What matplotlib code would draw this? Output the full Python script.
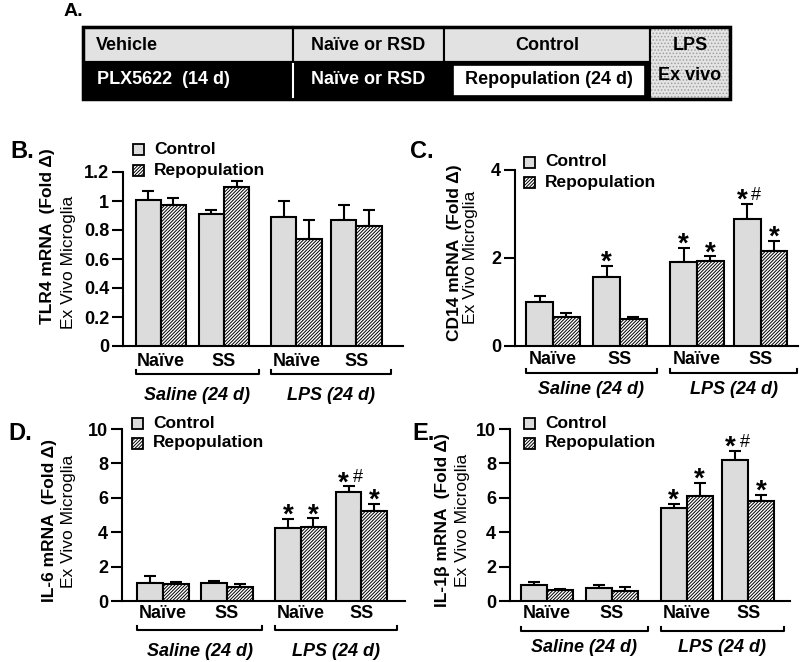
import matplotlib
matplotlib.use('Agg')
import matplotlib.pyplot as plt
from matplotlib.patches import Rectangle
import numpy as np

# values (fold change, mean and upper SEM)
groups = ['Naïve', 'SS', 'Naïve', 'SS']
treatments = ['Saline (24 d)', 'LPS (24 d)']
series = ['Control', 'Repopulation']

tlr4_ctrl = [1.01, 0.91, 0.89, 0.87]
tlr4_ctrl_err = [0.06, 0.03, 0.11, 0.10]
tlr4_repop = [0.97, 1.10, 0.74, 0.83]
tlr4_repop_err = [0.05, 0.04, 0.13, 0.11]

cd14_ctrl = [1.01, 1.57, 1.90, 2.89]
cd14_ctrl_err = [0.13, 0.25, 0.33, 0.34]
cd14_repop = [0.67, 0.61, 1.94, 2.15]
cd14_repop_err = [0.07, 0.06, 0.10, 0.24]

il6_ctrl = [1.02, 1.02, 4.25, 6.33]
il6_ctrl_err = [0.42, 0.13, 0.52, 0.33]
il6_repop = [0.97, 0.83, 4.31, 5.24]
il6_repop_err = [0.12, 0.18, 0.50, 0.40]

il1b_ctrl = [0.95, 0.76, 5.39, 8.20]
il1b_ctrl_err = [0.15, 0.19, 0.27, 0.54]
il1b_repop = [0.62, 0.56, 6.12, 5.79]
il1b_repop_err = [0.10, 0.23, 0.76, 0.37]

# significance marks: (group index, series index, mark)
tlr4_marks = []
cd14_marks = [(1, 0, '*'), (2, 0, '*'), (2, 1, '*'), (3, 0, '*#'), (3, 1, '*')]
il6_marks = [(2, 0, '*'), (2, 1, '*'), (3, 0, '*#'), (3, 1, '*')]
il1b_marks = [(2, 0, '*'), (2, 1, '*'), (3, 0, '*#'), (3, 1, '*')]

plt.rcParams['font.family'] = ['Liberation Sans', 'DejaVu Sans']
plt.rcParams['hatch.linewidth'] = 0.7

W, H = 800, 662
fig = plt.figure(figsize=(W / 100, H / 100), dpi=100)

# overlay in pixel coordinates for the scheme, letters and legends
ov = fig.add_axes([0, 0, 1, 1])
ov.set_xlim(0, W)
ov.set_ylim(H, 0)
ov.axis('off')

GREY = '#dcdcdc'
HATCH = '/' * 10

# --- Panel A: study design ---
ov.text(64, 12, 'A.', fontsize=14, fontweight='bold', va='center')
for x0, x1, lab in [(83, 293, 'Vehicle'), (293, 444, 'Naïve or RSD'), (444, 650, 'Control')]:
    ov.add_patch(Rectangle((x0, 27), x1 - x0, 35, fc='#e2e2e2', ec='black', lw=1.5))
ov.add_patch(Rectangle((83, 62), 567, 37, fc='black', ec='black', lw=1.5))
ov.plot([293, 293], [64, 97], color='white', lw=1.5)
ov.add_patch(Rectangle((453, 65), 192, 31, fc='white', ec='black', lw=1.2))
ov.add_patch(Rectangle((650, 27), 80, 72, fc='#e4e4e4', ec='#a0a0a0', lw=0, hatch='.....'))
ov.add_patch(Rectangle((650, 27), 80, 72, fill=False, ec='black', lw=1.5))
ov.add_patch(Rectangle((83, 27), 647, 72, fill=False, ec='black', lw=2.5))

ov.text(96, 45, 'Vehicle', fontsize=13, fontweight='bold', va='center')
ov.text(97, 80, 'PLX5622  (14 d)', fontsize=13, fontweight='bold', va='center', color='white')
ov.text(368, 45, 'Naïve or RSD', fontsize=13, fontweight='bold', va='center', ha='center')
ov.text(368, 80, 'Naïve or RSD', fontsize=13, fontweight='bold', va='center', ha='center', color='white')
ov.text(547, 45, 'Control', fontsize=13, fontweight='bold', va='center', ha='center')
ov.text(549, 80, 'Repopulation (24 d)', fontsize=13, fontweight='bold', va='center', ha='center')
ov.text(690, 46, 'LPS', fontsize=13, fontweight='bold', va='center', ha='center')
ov.text(690, 75, 'Ex vivo', fontsize=13, fontweight='bold', va='center', ha='center')

x = np.array([0, 1, 2.15, 3.1])
w = 0.4


def panel(box, xlim, ylim, yticks, ctrl, ctrl_err, repop, repop_err, marks,
          name_off, br_off, cat_off):
    l, r, t, b = box
    ax = fig.add_axes([l / W, 1 - b / H, (r - l) / W, (b - t) / H])
    ax.patch.set_alpha(0)
    ax_h = b - t
    ax.bar(x - w / 2, ctrl, w, color=GREY, edgecolor='black', linewidth=1.5, zorder=3)
    ax.bar(x + w / 2, repop, w, color='white', edgecolor='black', hatch=HATCH,
           linewidth=1.5, zorder=3)
    ax.errorbar(x - w / 2, ctrl, yerr=[np.zeros(4), ctrl_err], fmt='none', ecolor='black',
                elinewidth=1.5, capsize=4, capthick=1.5, zorder=2)
    ax.errorbar(x + w / 2, repop, yerr=[np.zeros(4), repop_err], fmt='none', ecolor='black',
                elinewidth=1.5, capsize=4, capthick=1.5, zorder=2)
    ax.set_xlim(*xlim)
    ax.set_ylim(*ylim)
    ax.set_xticks([])
    ax.set_yticks(yticks)
    ax.set_yticklabels([f'{v:g}' for v in yticks], fontweight='bold')
    ax.tick_params(axis='y', direction='out', length=8, width=1.5, labelsize=13, pad=2)
    for s in ['top', 'right']:
        ax.spines[s].set_visible(False)
    for s in ['left', 'bottom']:
        ax.spines[s].set_linewidth(1.5)

    trans = ax.get_xaxis_transform()
    for xi, g in zip(x, groups):
        ax.text(xi, -name_off / ax_h, g, transform=trans, ha='center', va='center',
                fontsize=13, fontweight='bold')
    for i, lab in enumerate(treatments):
        x0 = x[2 * i] - 0.4
        x1 = x[2 * i + 1] + 0.55
        yb = -br_off / ax_h
        yt = -(br_off - 4) / ax_h
        ax.plot([x0, x0, x1, x1], [yt, yb, yb, yt], transform=trans, clip_on=False,
                color='black', lw=1.5)
        ax.text((x0 + x1) / 2, -cat_off / ax_h, lab, transform=trans, ha='center',
                va='center', fontsize=13, fontweight='bold', style='italic')

    vals = [ctrl, repop]
    errs = [ctrl_err, repop_err]
    for gi, si, m in marks:
        xp = x[gi] + (w / 2 if si else -w / 2)
        top = vals[si][gi] + errs[si][gi]
        dx = -5 if m == '*#' else 0
        ax.annotate('*', (xp, top), xytext=(dx, -4), textcoords='offset pixels',
                    ha='center', va='baseline', fontsize=20, fontweight='bold')
        if m == '*#':
            ax.annotate('#', (xp, top), xytext=(9, 4), textcoords='offset pixels',
                        ha='center', va='baseline', fontsize=13)
    return ax


panel((123, 403, 172, 346), (-0.60, 3.84), (0, 1.2), [0, 0.2, 0.4, 0.6, 0.8, 1.0, 1.2],
      tlr4_ctrl, tlr4_ctrl_err, tlr4_repop, tlr4_repop_err, tlr4_marks, 16, 28, 50)
panel((515, 798, 170, 346), (-0.567, 3.66), (0, 4), [0, 2, 4],
      cd14_ctrl, cd14_ctrl_err, cd14_repop, cd14_repop_err, cd14_marks, 14, 27, 44)
panel((122, 405, 429, 601), (-0.64, 3.78), (0, 10), [0, 2, 4, 6, 8, 10],
      il6_ctrl, il6_ctrl_err, il6_repop, il6_repop_err, il6_marks, 13, 29, 50)
panel((510, 790, 429, 601), (-0.57, 3.74), (0, 10), [0, 2, 4, 6, 8, 10],
      il1b_ctrl, il1b_ctrl_err, il1b_repop, il1b_repop_err, il1b_marks, 13, 30, 46)

# panel letters, y labels and legends
for lx, ly, lab in [(10, 151, 'B.'), (410, 152, 'C.'), (8, 433, 'D.'), (412, 433, 'E.')]:
    ov.text(lx, ly, lab, fontsize=17, fontweight='bold', va='center')

ylabels = [
    (48, 236, 68, 262, 'TLR4 mRNA  (Fold Δ)'),
    (454, 253, 471, 257, 'CD14 mRNA  (Fold Δ)'),
    (50, 520, 68, 521, 'IL-6 mRNA  (Fold Δ)'),
    (443, 520, 463, 520, 'IL-1β mRNA  (Fold Δ)'),
]
for bx, by, rx, ry, lab in ylabels:
    ov.text(bx, by, lab, rotation=90, ha='center', va='center', fontsize=12.5, fontweight='bold')
    ov.text(rx, ry, 'Ex Vivo Microglia', rotation=90, ha='center', va='center', fontsize=12.5)

for sx, yc, yr in [(133, 149, 170), (524, 162, 182), (132, 423, 443), (524, 423, 443)]:
    ov.add_patch(Rectangle((sx, yc - 5.5), 11, 11, fc=GREY, ec='black', lw=1.3))
    ov.add_patch(Rectangle((sx, yr - 5.5), 11, 11, fc='white', ec='black', lw=1.3, hatch=HATCH))
    ov.text(sx + 21, yc, series[0], fontsize=12.5, fontweight='bold', va='center')
    ov.text(sx + 21, yr, series[1], fontsize=12.5, fontweight='bold', va='center')

fig.savefig('out.png', dpi=100)
